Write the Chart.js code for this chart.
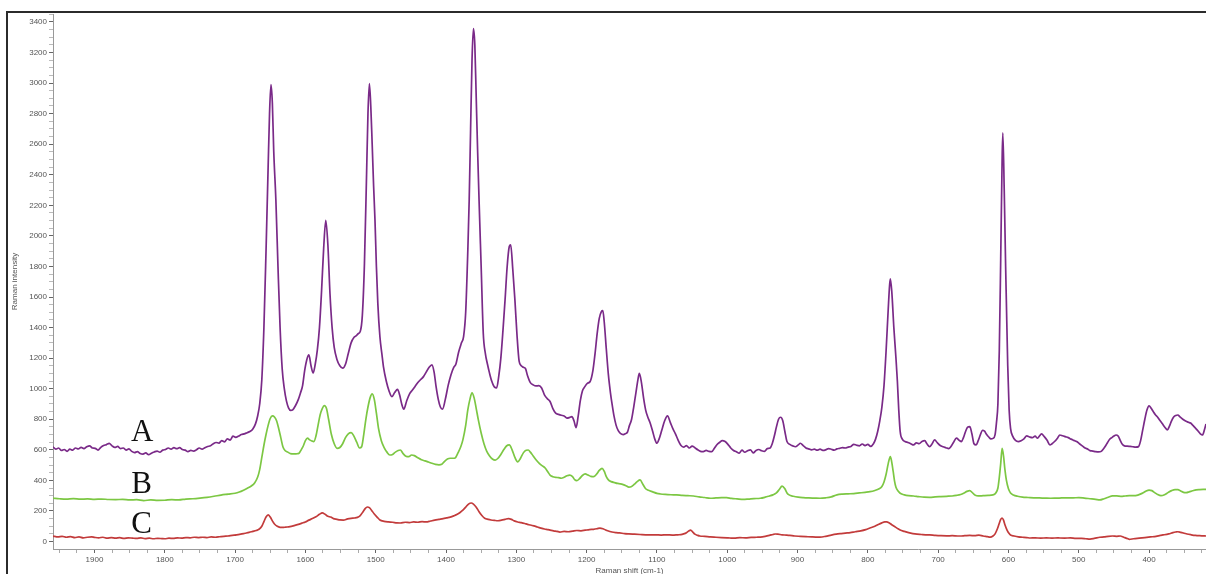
<!DOCTYPE html>
<html>
<head>
<meta charset="utf-8">
<title>Raman spectra</title>
<script src="https://cdn.jsdelivr.net/npm/chart.js@4.4.1/dist/chart.umd.min.js"></script>
<style>
  html, body { margin: 0; padding: 0; background: #fff; overflow: hidden; }
  #wrap { position: relative; width: 1206px; height: 574px; }
  #frame { position: absolute; left: 6px; top: 11px; width: 1400px; height: 800px;
           border-top: 2px solid #2b2b2b; border-left: 2px solid #2b2b2b; pointer-events: none; }
  canvas { position: absolute; left: 0; top: 0; }
</style>
</head>
<body>
<div id="wrap">
  <canvas id="c" width="1206" height="574"></canvas>
  <div id="frame"></div>
</div>
<script>
// Raman shift (cm-1) / intensity pairs for each sample
const spectrumA = [
[1959,620],[1955,604],[1951,612],[1947,596],[1943,602],[1939,590],[1935,604],[1931,598],[1927,612],[1923,606],[1919,616],[1915,608],[1911,620],[1907,626],[1903,612],[1899,610],[1895,598],[1891,616],[1887,628],[1883,634],[1879,642],[1875,626],[1871,616],[1867,622],[1863,608],[1859,612],[1855,598],[1851,606],[1847,590],[1843,582],[1839,588],[1835,576],[1831,572],[1827,580],[1823,568],[1819,578],[1815,586],[1811,592],[1807,584],[1803,598],[1799,602],[1795,612],[1791,604],[1787,614],[1783,608],[1779,614],[1775,602],[1771,598],[1767,588],[1763,596],[1759,592],[1755,600],[1751,612],[1747,604],[1743,614],[1739,622],[1735,626],[1731,640],[1727,648],[1723,644],[1719,660],[1715,652],[1711,672],[1707,664],[1703,690],[1699,682],[1695,690],[1691,700],[1687,704],[1683,712],[1679,720],[1675,735],[1671,770],[1668,820],[1665,900],[1662,1058],[1659,1400],[1656,1900],[1653,2450],[1651,2800],[1649,2990],[1647,2870],[1645,2550],[1642,2236],[1639,1800],[1636,1400],[1633,1130],[1630,1000],[1627,920],[1624,875],[1621,858],[1618,862],[1614,890],[1610,930],[1607,972],[1604,1020],[1601,1120],[1598,1190],[1595,1221],[1592,1150],[1589,1103],[1586,1160],[1583,1254],[1580,1400],[1577,1640],[1574,1920],[1571,2101],[1568,1940],[1565,1620],[1562,1400],[1559,1270],[1555,1190],[1551,1150],[1547,1134],[1543,1160],[1539,1230],[1535,1300],[1531,1335],[1528,1345],[1525,1360],[1522,1374],[1519,1480],[1516,1820],[1513,2400],[1511,2800],[1509,2996],[1507,2850],[1505,2600],[1503,2330],[1501,2100],[1499,1800],[1497,1560],[1494,1340],[1491,1220],[1489,1145],[1485,1050],[1481,985],[1477,948],[1473,975],[1469,995],[1466,960],[1463,900],[1460,866],[1456,920],[1452,965],[1448,990],[1444,1015],[1440,1040],[1436,1060],[1432,1079],[1428,1110],[1424,1140],[1420,1156],[1417,1110],[1414,1010],[1411,930],[1408,880],[1405,866],[1401,930],[1397,1020],[1393,1090],[1389,1140],[1386,1160],[1382,1240],[1378,1300],[1375,1341],[1372,1500],[1369,1900],[1367,2236],[1365,2700],[1363,3150],[1361,3356],[1359,3250],[1357,2900],[1355,2550],[1353,2236],[1350,1800],[1347,1363],[1344,1230],[1341,1160],[1338,1100],[1335,1050],[1331,1010],[1328,1005],[1325,1080],[1322,1200],[1319,1380],[1316,1581],[1313,1800],[1310,1930],[1308,1942],[1305,1780],[1302,1581],[1299,1350],[1296,1180],[1293,1150],[1290,1140],[1287,1132],[1284,1085],[1280,1040],[1276,1025],[1272,1018],[1268,1020],[1264,1005],[1260,960],[1256,935],[1252,916],[1248,870],[1244,840],[1240,832],[1236,826],[1232,822],[1228,808],[1224,812],[1221,817],[1218,790],[1215,745],[1212,820],[1209,920],[1206,985],[1203,1010],[1199,1035],[1195,1047],[1191,1120],[1188,1230],[1185,1360],[1182,1460],[1179,1505],[1177,1511],[1175,1440],[1172,1260],[1169,1090],[1166,970],[1164,905],[1161,820],[1158,760],[1155,725],[1152,708],[1148,700],[1145,705],[1142,715],[1139,760],[1136,800],[1133,880],[1130,970],[1127,1060],[1125,1101],[1122,1040],[1119,940],[1116,860],[1113,815],[1110,780],[1106,720],[1103,670],[1100,643],[1097,670],[1093,730],[1089,790],[1085,822],[1081,780],[1077,735],[1074,708],[1070,665],[1066,630],[1062,618],[1058,628],[1054,612],[1050,624],[1046,614],[1042,600],[1038,590],[1034,588],[1030,596],[1026,590],[1022,588],[1018,612],[1015,632],[1011,648],[1007,660],[1003,654],[999,636],[995,612],[991,596],[987,588],[983,578],[979,598],[975,584],[971,594],[967,600],[963,580],[959,596],[955,602],[951,594],[947,590],[943,608],[939,612],[936,640],[933,690],[930,750],[927,800],[924,813],[921,790],[918,720],[915,654],[911,636],[907,626],[903,620],[899,632],[896,643],[892,628],[888,612],[884,606],[880,600],[876,604],[872,598],[868,604],[864,596],[860,600],[856,608],[852,604],[848,598],[844,606],[840,610],[836,614],[832,612],[828,618],[824,622],[820,636],[816,630],[812,626],[808,638],[804,628],[800,636],[796,622],[792,640],[789,670],[786,720],[783,790],[780,880],[777,1020],[774,1250],[771,1520],[769,1680],[768,1719],[766,1640],[763,1400],[760,1200],[758,1050],[756,860],[754,720],[751,670],[747,654],[743,648],[739,640],[735,632],[731,646],[727,640],[723,655],[719,660],[716,640],[712,621],[709,636],[705,665],[701,645],[697,628],[693,620],[689,614],[685,608],[682,620],[678,650],[674,676],[670,662],[667,654],[664,680],[661,720],[658,748],[655,752],[652,705],[649,640],[646,632],[643,660],[640,698],[637,728],[634,722],[631,700],[628,684],[625,672],[622,675],[619,700],[617,780],[615,900],[613,1250],[611,1850],[609,2500],[608,2674],[606,2300],[604,1800],[603,1581],[601,1150],[599,860],[597,740],[594,690],[590,662],[586,654],[582,660],[578,672],[574,691],[570,684],[566,680],[562,690],[559,676],[556,690],[553,704],[549,686],[545,662],[541,632],[538,640],[534,656],[530,678],[527,697],[523,692],[519,686],[515,680],[511,670],[507,662],[503,654],[499,640],[495,626],[491,612],[487,604],[484,595],[480,592],[476,588],[472,586],[468,590],[465,605],[462,625],[459,648],[456,669],[453,680],[450,690],[447,697],[444,690],[441,662],[438,636],[435,626],[431,624],[427,622],[423,620],[419,618],[415,621],[412,660],[409,730],[406,800],[403,860],[400,887],[397,872],[394,850],[391,830],[388,815],[385,795],[381,770],[377,745],[374,730],[371,755],[368,790],[365,815],[362,825],[359,828],[356,815],[352,800],[348,788],[344,780],[341,775],[338,762],[334,742],[330,722],[327,705],[324,697],[321,735],[319,769]
];

const spectrumB = [
[1959,283],[1950,280],[1940,278],[1930,281],[1920,277],[1910,279],[1900,276],[1890,278],[1880,275],[1870,274],[1860,276],[1850,272],[1840,274],[1830,268],[1820,272],[1810,269],[1800,270],[1790,274],[1780,272],[1770,278],[1760,280],[1750,284],[1740,289],[1730,296],[1720,304],[1710,310],[1700,316],[1694,324],[1688,336],[1682,350],[1677,363],[1672,385],[1668,420],[1665,470],[1662,550],[1659,630],[1656,700],[1653,760],[1650,805],[1647,822],[1644,815],[1641,790],[1638,740],[1635,680],[1632,620],[1629,596],[1625,585],[1621,575],[1617,573],[1613,574],[1609,578],[1606,600],[1603,625],[1600,660],[1597,676],[1594,665],[1591,658],[1588,654],[1585,690],[1582,760],[1579,830],[1576,870],[1573,889],[1570,870],[1567,800],[1563,700],[1559,640],[1555,610],[1551,615],[1547,640],[1543,680],[1539,705],[1535,713],[1531,690],[1527,650],[1523,612],[1520,620],[1517,700],[1514,800],[1511,880],[1508,940],[1505,966],[1502,930],[1499,840],[1496,740],[1492,660],[1488,615],[1484,585],[1480,566],[1476,570],[1472,585],[1468,596],[1465,599],[1461,575],[1457,558],[1453,555],[1449,566],[1445,562],[1440,548],[1435,535],[1430,528],[1425,520],[1420,512],[1415,505],[1410,502],[1406,505],[1402,525],[1398,540],[1394,545],[1390,545],[1387,547],[1383,580],[1379,620],[1376,665],[1372,760],[1369,861],[1366,930],[1363,973],[1360,940],[1357,870],[1354,796],[1350,710],[1346,640],[1342,590],[1338,560],[1334,540],[1330,533],[1326,545],[1322,570],[1318,600],[1314,625],[1310,632],[1306,600],[1302,550],[1298,521],[1294,545],[1290,580],[1286,597],[1283,599],[1280,585],[1276,560],[1272,535],[1267,510],[1263,495],[1259,481],[1255,455],[1252,435],[1248,424],[1244,420],[1240,418],[1236,414],[1232,420],[1228,430],[1224,435],[1220,425],[1217,405],[1214,398],[1210,412],[1206,432],[1202,442],[1198,435],[1194,426],[1190,424],[1186,440],[1182,465],[1178,479],[1175,460],[1172,425],[1169,403],[1165,392],[1160,385],[1156,380],[1152,377],[1148,372],[1144,365],[1140,356],[1136,360],[1132,375],[1128,392],[1124,403],[1120,375],[1116,345],[1112,335],[1106,325],[1100,315],[1095,311],[1088,308],[1080,306],[1072,305],[1064,302],[1056,300],[1048,298],[1040,292],[1032,288],[1024,283],[1016,285],[1008,287],[1001,287],[994,282],[986,279],[977,276],[970,278],[962,281],[953,283],[946,290],[940,298],[935,305],[930,318],[926,340],[922,363],[918,345],[915,318],[912,305],[906,296],[899,290],[892,287],[884,285],[876,284],[868,283],[860,286],[852,292],[844,305],[836,310],[828,312],[820,314],[812,318],[804,322],[797,326],[790,334],[784,345],[780,360],[777,390],[774,440],[771,510],[768,555],[766,520],[764,460],[762,395],[760,355],[757,330],[754,316],[748,305],[742,300],[735,298],[728,294],[720,290],[712,289],[704,292],[696,294],[688,296],[680,298],[674,302],[668,308],[663,318],[659,328],[655,333],[651,318],[647,302],[643,298],[636,300],[629,302],[622,305],[618,318],[615,350],[613,420],[611,510],[609,610],[607,560],[605,470],[603,403],[600,345],[597,318],[593,305],[587,296],[580,290],[572,288],[564,286],[556,285],[548,284],[540,283],[532,284],[524,285],[516,286],[508,286],[500,287],[492,284],[484,280],[476,276],[470,272],[464,280],[458,290],[452,298],[446,298],[440,296],[434,298],[428,300],[422,300],[416,304],[410,315],[405,328],[400,336],[396,333],[392,320],[388,308],[383,300],[378,306],[373,320],[368,333],[363,340],[359,340],[355,330],[351,322],[347,320],[343,325],[338,332],[333,338],[328,340],[323,341],[319,341]
];

const spectrumC = [
[1959,36],[1952,30],[1946,34],[1940,28],[1934,32],[1928,26],[1922,30],[1916,24],[1910,28],[1904,30],[1900,27],[1894,24],[1888,28],[1882,22],[1876,26],[1870,22],[1864,25],[1858,20],[1852,24],[1846,22],[1840,20],[1834,24],[1828,19],[1822,22],[1816,18],[1810,21],[1804,19],[1800,18],[1794,22],[1788,20],[1782,24],[1776,22],[1770,26],[1764,24],[1758,28],[1752,26],[1746,28],[1740,26],[1734,30],[1728,28],[1722,31],[1716,34],[1710,36],[1704,40],[1698,43],[1692,48],[1686,54],[1680,60],[1675,66],[1670,72],[1666,80],[1662,100],[1659,130],[1656,160],[1653,174],[1650,160],[1647,135],[1644,115],[1640,100],[1636,93],[1632,92],[1628,94],[1622,97],[1616,104],[1610,112],[1605,120],[1600,128],[1595,140],[1590,150],[1585,162],[1580,178],[1576,187],[1572,178],[1568,165],[1564,160],[1560,150],[1555,145],[1551,141],[1546,140],[1540,148],[1535,152],[1530,154],[1526,158],[1522,170],[1518,195],[1515,215],[1512,226],[1509,222],[1506,205],[1502,180],[1498,160],[1494,141],[1488,132],[1482,128],[1476,126],[1470,122],[1465,121],[1458,126],[1452,124],[1446,128],[1440,126],[1434,130],[1428,128],[1422,134],[1416,140],[1410,145],[1404,150],[1399,155],[1394,160],[1389,168],[1384,178],[1380,190],[1376,205],[1372,225],[1368,245],[1364,252],[1361,245],[1357,225],[1353,195],[1349,170],[1345,152],[1340,145],[1336,141],[1331,138],[1326,136],[1321,140],[1316,145],[1311,150],[1307,145],[1303,135],[1298,128],[1293,124],[1288,118],[1284,112],[1280,108],[1275,102],[1270,95],[1265,88],[1260,82],[1255,78],[1252,75],[1247,70],[1242,66],[1238,62],[1232,66],[1226,64],[1220,68],[1214,72],[1208,70],[1202,74],[1196,78],[1190,80],[1185,84],[1181,88],[1176,82],[1170,70],[1164,62],[1158,58],[1153,56],[1146,52],[1140,50],[1132,48],[1124,46],[1116,44],[1110,43],[1102,44],[1094,42],[1086,44],[1078,42],[1070,44],[1066,45],[1062,50],[1058,58],[1055,68],[1052,75],[1049,62],[1046,48],[1042,40],[1039,36],[1032,34],[1024,30],[1016,28],[1008,26],[1000,24],[996,23],[990,22],[982,25],[974,24],[966,27],[958,28],[953,29],[946,34],[940,40],[935,46],[932,49],[928,48],[922,44],[916,42],[911,40],[904,36],[896,34],[888,32],[880,30],[874,29],[868,29],[860,34],[852,42],[845,48],[838,52],[832,55],[825,58],[818,64],[810,70],[803,78],[797,88],[790,100],[785,112],[780,122],[776,128],[773,128],[770,122],[766,110],[762,98],[758,86],[754,75],[748,66],[742,58],[736,52],[730,48],[724,46],[718,44],[712,43],[704,40],[696,38],[688,37],[680,38],[672,36],[669,36],[662,38],[655,40],[648,38],[642,42],[636,36],[630,32],[626,29],[622,36],[619,50],[616,80],[613,120],[611,145],[609,154],[607,140],[605,110],[602,75],[599,52],[597,43],[592,36],[586,30],[580,28],[574,26],[569,23],[562,24],[554,22],[546,24],[538,22],[530,24],[527,23],[520,22],[512,24],[504,20],[496,20],[490,18],[484,16],[478,20],[470,28],[464,30],[458,34],[452,36],[446,34],[441,36],[436,28],[430,18],[428,14],[422,18],[414,22],[406,26],[398,30],[390,34],[384,40],[380,43],[372,50],[366,58],[362,62],[359,64],[355,60],[350,54],[346,49],[340,44],[334,40],[328,38],[323,37],[319,36]
];

// axis ranges and tick spacing
const shiftRange = [319, 1959];
const intensityRange = [-49, 3452];
const shiftMajorStep = 100;
const shiftMinorStep = 25;
const intensityMajorStep = 200;
const intensityMinorStep = 50;

// sample letters, anchored in data coordinates (baseline)
const sampleLabels = [
  { text: 'A', shift: 1832, intensity: 658 },
  { text: 'B', shift: 1833, intensity: 316 },
  { text: 'C', shift: 1833, intensity: 56 }
];

const toXY = arr => arr.map(p => ({ x: p[0], y: p[1] }));

// evenly spaced tick values (major + minor) inside an axis range
function stepTicks(scale, step) {
  const out = [];
  for (let v = Math.ceil(scale.min / step) * step; v <= scale.max; v += step) out.push({ value: v });
  return out;
}

const letterPlugin = {
  id: 'sampleLetters',
  afterDatasetsDraw(chart) {
    const { ctx, scales } = chart;
    ctx.save();
    ctx.fillStyle = '#111';
    ctx.font = '31px "Liberation Serif", "Times New Roman", serif';
    ctx.textAlign = 'center';
    ctx.textBaseline = 'alphabetic';
    sampleLabels.forEach(l => {
      ctx.fillText(l.text, scales.x.getPixelForValue(l.shift), scales.y.getPixelForValue(l.intensity));
    });
    ctx.restore();
  }
};

const tickFont = { family: '"Liberation Sans", Arial, sans-serif', size: 8 };
const isMajor = (v, step) => Math.abs(v % step) < 1e-6;

new Chart(document.getElementById('c'), {
  type: 'line',
  data: {
    datasets: [
      { label: 'A', data: toXY(spectrumA), borderColor: '#7a2a88', borderWidth: 1.7 },
      { label: 'B', data: toXY(spectrumB), borderColor: '#7cc743', borderWidth: 1.7 },
      { label: 'C', data: toXY(spectrumC), borderColor: '#c23b3b', borderWidth: 1.7 }
    ]
  },
  options: {
    responsive: false,
    animation: false,
    devicePixelRatio: 1,
    elements: {
      point: { radius: 0 },
      line: { cubicInterpolationMode: 'monotone', fill: false }
    },
    layout: { padding: { top: 14, left: 0, right: 0, bottom: 0 } },
    plugins: { legend: { display: false }, tooltip: { enabled: false } },
    scales: {
      x: {
        type: 'linear',
        reverse: true,
        min: shiftRange[0],
        max: shiftRange[1],
        afterBuildTicks: s => { s.ticks = stepTicks(s, shiftMinorStep); },
        afterFit: s => { s.height = 25; },
        ticks: {
          autoSkip: false,
          maxRotation: 0,
          padding: 2,
          color: '#555',
          font: tickFont,
          callback: v => isMajor(v, shiftMajorStep) ? String(v) : ''
        },
        grid: {
          drawOnChartArea: false,
          drawTicks: true,
          tickLength: 4,
          tickColor: c => (c.tick && isMajor(c.tick.value, shiftMajorStep)) ? '#666' : '#aaa'
        },
        border: { display: true, color: '#999', width: 1 },
        title: {
          display: true,
          text: 'Raman shift (cm-1)',
          color: '#555',
          font: tickFont,
          padding: { top: 0, bottom: -2 }
        }
      },
      y: {
        type: 'linear',
        min: intensityRange[0],
        max: intensityRange[1],
        afterBuildTicks: s => { s.ticks = stepTicks(s, intensityMinorStep); },
        afterFit: s => { s.width = 53; },
        ticks: {
          autoSkip: false,
          padding: 2,
          color: '#555',
          font: tickFont,
          callback: v => isMajor(v, intensityMajorStep) ? String(v) : ''
        },
        grid: {
          drawOnChartArea: false,
          drawTicks: true,
          tickLength: 4,
          tickColor: c => (c.tick && isMajor(c.tick.value, intensityMajorStep)) ? '#666' : '#bbb'
        },
        border: { display: true, color: '#999', width: 1 },
        title: {
          display: true,
          text: 'Raman intensity',
          color: '#555',
          font: tickFont,
          padding: { top: 10, bottom: 0 }
        }
      }
    }
  },
  plugins: [letterPlugin]
});
</script>
</body>
</html>
